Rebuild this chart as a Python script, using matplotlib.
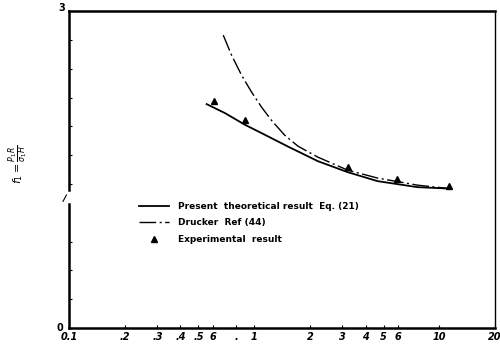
import matplotlib
matplotlib.use("Agg")
import matplotlib.pyplot as plt
from matplotlib.lines import Line2D

# values
present_x = [0.554, 0.696, 0.891, 1.142, 1.524, 2.21, 3.2, 4.64, 7.62, 11.5]
present_y = [2.12, 2.035, 1.925, 1.83, 1.718, 1.58, 1.476, 1.391, 1.334, 1.32]

drucker_x = [0.681, 0.755, 0.855, 0.967, 1.094, 1.239, 1.462, 1.725, 2.21, 3.2,
             4.64, 7.62, 11.46]
drucker_y = [2.773, 2.584, 2.394, 2.236, 2.094, 1.968, 1.826, 1.722, 1.618, 1.495,
             1.42, 1.353, 1.32]

exp_x = [0.61, 0.895, 3.2, 5.9, 11.3]
exp_y = [2.148, 1.968, 1.524, 1.41, 1.344]

xtick_vals = [0.1, 0.2, 0.3, 0.4, 0.5, 0.6, 0.8, 1, 2, 3, 4, 5, 6, 10, 20]
xtick_text = ["0.1", ".2", ".3", ".4", ".5", "6", ".", "1", "2", "3", "4", "5", "6", "10", "20"]

legend_text = ["Present  theoretical result  Eq. (21)", "Drucker  Ref (44)", "Experimental  result"]

plt.rcParams["font.family"] = "DejaVu Sans"

fig = plt.figure(figsize=(5.0, 3.49), dpi=100)
ax = fig.add_axes([0.138, 0.06, 0.852, 0.908])

dashdot = (0, (12, 2.5, 1.5, 2.5))
ax.plot(present_x, present_y, color="black", lw=1.3, solid_joinstyle="round")
ax.plot(drucker_x, drucker_y, color="black", lw=1.0, linestyle=dashdot)
ax.plot(exp_x, exp_y, linestyle="none", marker="^", color="black", markersize=5)

ax.set_xscale("log")
ax.set_xlim(0.1, 20)
ax.set_ylim(0, 3)

ax.set_xticks(xtick_vals)
ax.set_xticklabels(xtick_text, fontsize=7, fontweight="bold", style="italic")
ax.xaxis.set_minor_locator(matplotlib.ticker.NullLocator())
ax.tick_params(axis="x", direction="in", length=2.5, width=0.8, pad=3)

ax.set_yticks([k * 3 / 11 for k in range(1, 11) if k != 4])
ax.set_yticklabels([])
ax.tick_params(axis="y", direction="in", length=2.5, width=0.8)

# spines: left one drawn by hand with a break
ax.spines["left"].set_visible(False)
ax.spines["bottom"].set_linewidth(1.8)
ax.spines["top"].set_linewidth(1.8)
ax.spines["right"].set_linewidth(1.0)
kw = dict(transform=ax.transAxes, color="black", lw=1.8, clip_on=False)
ax.add_line(Line2D([0, 0], [0, 0.39], **kw))
ax.add_line(Line2D([0, 0], [0.435, 1.0], **kw))
ax.add_line(Line2D([-0.014, -0.006], [0.40, 0.42], transform=ax.transAxes,
                   color="black", lw=0.8, clip_on=False))

ax.text(-0.014, 0.0, "0", transform=ax.transAxes, ha="right", va="center",
        fontsize=7, fontweight="bold")
ax.text(-0.01, 1.01, "3", transform=ax.transAxes, ha="right", va="center",
        fontsize=7, fontweight="bold")
fig.text(0.036, 0.53, r"$f_1=\frac{P_1 R}{\sigma_1 H}$", rotation=90,
         ha="center", va="center", fontsize=8, fontweight="bold")

handles = [
    Line2D([], [], color="black", lw=1.3),
    Line2D([], [], color="black", lw=1.0, linestyle=dashdot),
    Line2D([], [], color="black", linestyle="none", marker="^", markersize=5),
]
leg = ax.legend(handles, legend_text, loc="upper left", bbox_to_anchor=(0.155, 0.41),
                frameon=False, fontsize=6.5, handlelength=3.4, handletextpad=1.0,
                labelspacing=0.85, borderaxespad=0)
for t in leg.get_texts():
    t.set_fontweight("bold")

fig.savefig("out.png", dpi=100)
